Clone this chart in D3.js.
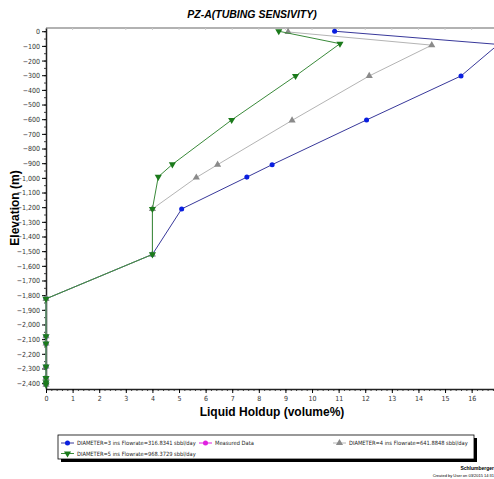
<!DOCTYPE html>
<html>
<head>
<meta charset="utf-8">
<script src="https://cdn.jsdelivr.net/npm/d3@7"></script>
<style>
  body { margin: 0; background: #fff; }
  svg { display: block; }
  text { font-family: "Liberation Sans", Arial, sans-serif; }
  .tick text { font-family: "Liberation Sans Narrow", "DejaVu Sans Condensed", sans-serif; font-size: 7px; fill: #333; }
</style>
</head>
<body>
<div id="chart"></div>
<script>
// series data (holdup in volume%, elevation in m)
const holdup3 = [10.85, 17.0, 15.6, 12.05, 8.5, 7.55, 5.1, 4.0, 0, 0, 0, 0, 0, 0, 0];
const elev3 = [0, -90, -305, -605, -910, -995, -1212, -1522, -1825, -2080, -2130, -2287, -2365, -2395, -2410];
const holdup4 = [9.1, 14.5, 12.15, 9.25, 6.45, 5.65, 4.0, 4.0, 0, 0, 0, 0, 0, 0, 0];
const elev4 = [-5, -95, -305, -608, -910, -998, -1212, -1522, -1825, -2080, -2130, -2287, -2365, -2395, -2410];
const holdup5 = [8.75, 11.05, 9.38, 6.98, 4.75, 4.22, 4.0, 4.0, 0, 0, 0, 0, 0, 0, 0];
const elev5 = [0, -85, -305, -605, -908, -993, -1212, -1522, -1825, -2080, -2130, -2287, -2365, -2395, -2410];

const legendLabels = [
    "DIAMETER=3 ins Flowrate=316.8341 sbbl/day",
    "Measured Data",
    "DIAMETER=4 ins Flowrate=641.8848 sbbl/day",
    "DIAMETER=5 ins Flowrate=968.3729 sbbl/day"
];
const xTicks = d3.range(0, 17, 1);
const yTicks = d3.range(0, -2401, -100);

const width = 494;
const height = 479;

const usableArea = { left: 46, right: 494, top: 28, bottom: 389 };

const svg = d3.select('#chart')
    .append('svg')
    .attr('width', width)
    .attr('height', height)
    .attr('viewBox', [0, 0, width, height]);

const xScale = d3.scaleLinear()
    .domain([0, 16.84])
    .range([usableArea.left, usableArea.right]);

const yScale = d3.scaleLinear()
    .domain([-2440, 22])
    .range([usableArea.bottom, usableArea.top]);

// title
svg.append('text')
    .attr('x', 252)
    .attr('y', 18)
    .attr('text-anchor', 'middle')
    .style('font-size', '10.5px')
    .style('font-weight', 'bold')
    .style('font-style', 'italic')
    .text('PZ-A(TUBING SENSIVITY)');

// top border with small ticks
svg.append('line')
    .attr('x1', usableArea.left).attr('x2', usableArea.right)
    .attr('y1', usableArea.top).attr('y2', usableArea.top)
    .attr('stroke', '#999').attr('stroke-width', 1.5);
svg.append('g')
    .selectAll('line')
    .data(xTicks)
    .join('line')
    .attr('x1', d => xScale(d)).attr('x2', d => xScale(d))
    .attr('y1', usableArea.top).attr('y2', usableArea.top + 2)
    .attr('stroke', '#ccc');

// minor ticks
svg.append('g')
    .attr('transform', `translate(0, ${usableArea.bottom})`)
    .call(d3.axisBottom(xScale).tickValues(d3.range(0, 16.9, 0.2)).tickSize(2).tickFormat(''))
    .call(g => g.select('.domain').remove())
    .selectAll('line').attr('stroke', '#444');

svg.append('g')
    .attr('transform', `translate(${usableArea.left}, 0)`)
    .call(d3.axisLeft(yScale).tickValues(d3.range(0, -2441, -50)).tickSize(2).tickFormat(''))
    .call(g => g.select('.domain').remove())
    .selectAll('line').attr('stroke', '#444');

// x axis
const xAxis = svg.append('g')
    .attr('class', 'x-axis')
    .attr('transform', `translate(0, ${usableArea.bottom})`)
    .call(d3.axisBottom(xScale).tickValues(xTicks).tickSize(4).tickSizeOuter(0).tickPadding(3).tickFormat(d3.format('d')));
xAxis.select('.domain').attr('stroke', '#222').attr('stroke-width', 1.5);

// y axis
const yAxis = svg.append('g')
    .attr('class', 'y-axis')
    .attr('transform', `translate(${usableArea.left}, 0)`)
    .call(d3.axisLeft(yScale).tickValues(yTicks).tickSize(4).tickSizeOuter(0).tickPadding(2).tickFormat(d3.format(',')));
yAxis.select('.domain').attr('stroke', '#222').attr('stroke-width', 1.5);
yAxis.selectAll('.tick text').attr('dy', '0.35em');

// axis labels
svg.append('text')
    .attr('x', 272)
    .attr('y', 416)
    .attr('text-anchor', 'middle')
    .style('font-size', '12px')
    .style('font-weight', 'bold')
    .text('Liquid Holdup (volume%)');

svg.append('text')
    .attr('transform', 'translate(19, 208) rotate(-90)')
    .attr('text-anchor', 'middle')
    .style('font-size', '12px')
    .style('font-weight', 'bold')
    .text('Elevation (m)');

const series = [
    { x: holdup3, y: elev3, line: '#38389a', marker: '#0a1fe0', shape: 'circle' },
    { x: holdup4, y: elev4, line: '#b4b4b4', marker: '#8a8a8a', shape: 'up' },
    { x: holdup5, y: elev5, line: '#3a8a3a', marker: '#1b7a1b', shape: 'down' }
];

const line = d3.line()
    .x(d => xScale(d[0]))
    .y(d => yScale(d[1]));

function markerPath(shape) {
    if (shape === 'circle') return d3.symbol(d3.symbolCircle, 20)();
    return d3.symbol(d3.symbolTriangle, 22)();
}

series.forEach(s => {
    const pts = s.x.map((v, i) => [v, s.y[i]]);
    svg.append('path')
        .datum(pts)
        .attr('d', line)
        .attr('fill', 'none')
        .attr('stroke', s.line)
        .attr('stroke-width', 1);
    svg.append('g')
        .selectAll('path')
        .data(pts)
        .join('path')
        .attr('d', markerPath(s.shape))
        .attr('transform', d => `translate(${xScale(d[0])}, ${yScale(d[1])})` + (s.shape === 'down' ? ' rotate(180)' : ''))
        .attr('fill', s.marker);
});

// legend
const legend = svg.append('g');
legend.append('rect')
    .attr('x', 61).attr('y', 438).attr('width', 416).attr('height', 24)
    .attr('fill', '#000');
legend.append('rect')
    .attr('x', 58).attr('y', 435).attr('width', 416).attr('height', 24)
    .attr('fill', '#fff').attr('stroke', '#000').attr('stroke-width', 0.8);

const legendItems = [
    { label: legendLabels[0], x: 61, y: 443, line: '#38389a', marker: '#0a1fe0', shape: 'circle' },
    { label: legendLabels[1], x: 199, y: 443, line: '#e020e0', marker: '#e020e0', shape: 'circle' },
    { label: legendLabels[2], x: 333, y: 443, line: '#b4b4b4', marker: '#8a8a8a', shape: 'up' },
    { label: legendLabels[3], x: 61, y: 453.5, line: '#3a8a3a', marker: '#1b7a1b', shape: 'down' }
];

legendItems.forEach(it => {
    legend.append('line')
        .attr('x1', it.x).attr('x2', it.x + 13)
        .attr('y1', it.y).attr('y2', it.y)
        .attr('stroke', it.line);
    legend.append('path')
        .attr('d', markerPath(it.shape))
        .attr('transform', `translate(${it.x + 6.5}, ${it.y})` + (it.shape === 'down' ? ' rotate(180)' : ''))
        .attr('fill', it.marker);
    legend.append('text')
        .attr('x', it.x + 16)
        .attr('y', it.y + 2.2)
        .style('font-family', '"Liberation Sans Narrow", "DejaVu Sans Condensed", sans-serif')
        .style('font-size', '5.7px')
        .attr('fill', '#222')
        .text(it.label);
});

// footer
svg.append('text')
    .attr('x', 494).attr('y', 470)
    .attr('text-anchor', 'end')
    .style('font-size', '5px').style('font-weight', 'bold')
    .text('Schlumberger');
svg.append('text')
    .attr('x', 494).attr('y', 477)
    .attr('text-anchor', 'end')
    .style('font-size', '4px')
    .text('Created by User on 03/2015 14:31');
</script>
</body>
</html>
